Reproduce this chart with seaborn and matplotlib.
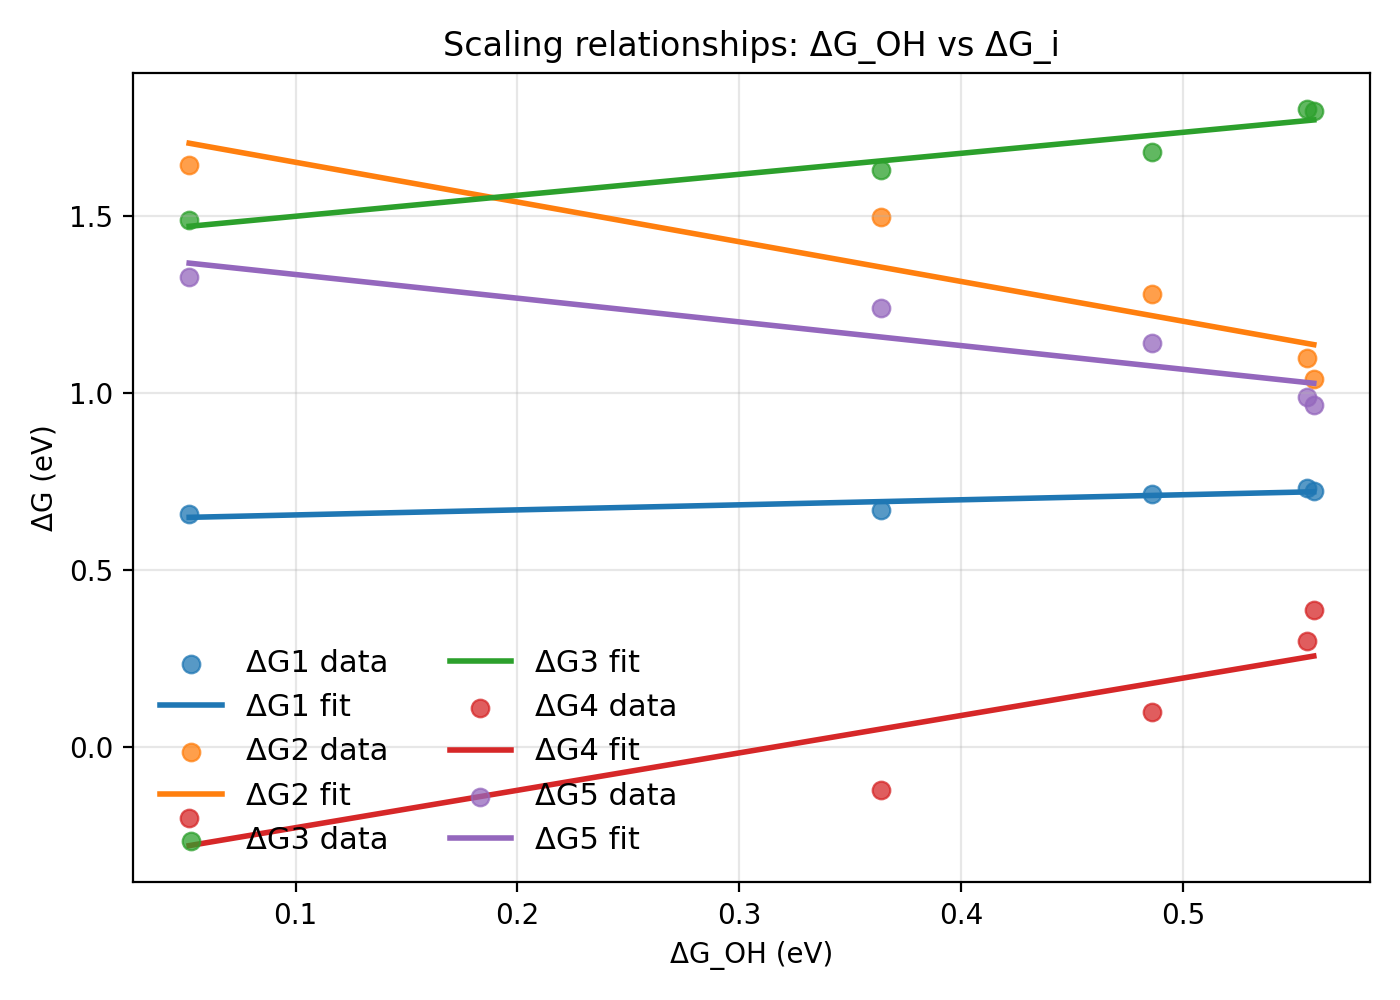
import matplotlib
matplotlib.use("Agg")
import matplotlib.pyplot as plt
import numpy as np
import seaborn as sns

# ── Data ────────────────────────────────────────────────────────────────────
dg_oh = [0.052, 0.364, 0.486, 0.556, 0.559]
dg1 = [0.658, 0.672, 0.715, 0.732, 0.723]
dg2 = [1.644, 1.497, 1.282, 1.099, 1.040]
dg3 = [1.489, 1.630, 1.681, 1.802, 1.799]
dg4 = [-0.200, -0.119, 0.099, 0.302, 0.387]
dg5 = [1.328, 1.240, 1.141, 0.989, 0.966]
series = {"ΔG1": dg1, "ΔG2": dg2, "ΔG3": dg3, "ΔG4": dg4, "ΔG5": dg5}

colors = sns.color_palette("tab10")
fig, ax = plt.subplots(figsize=(7, 5), dpi=200)

x = np.array(dg_oh)
xs = np.array([x.min(), x.max()])
for i, (name, y) in enumerate(series.items()):
    sns.scatterplot(x=x, y=y, ax=ax, color=colors[i], s=40, alpha=0.75,
                    edgecolor=colors[i], linewidth=0.8, label=f"{name} data")
    slope, icpt = np.polyfit(x, y, 1)
    sns.lineplot(x=xs, y=slope * xs + icpt, ax=ax, color=colors[i],
                 linewidth=2, label=f"{name} fit")

ax.set_title("Scaling relationships: ΔG_OH vs ΔG_i")
ax.set_xlabel("ΔG_OH (eV)")
ax.set_ylabel("ΔG (eV)")
ax.grid(True, alpha=0.3)
ax.legend(ncol=2, frameon=False, loc="lower left", fontsize=11)
plt.tight_layout()
fig.savefig("out.png", dpi=200)
